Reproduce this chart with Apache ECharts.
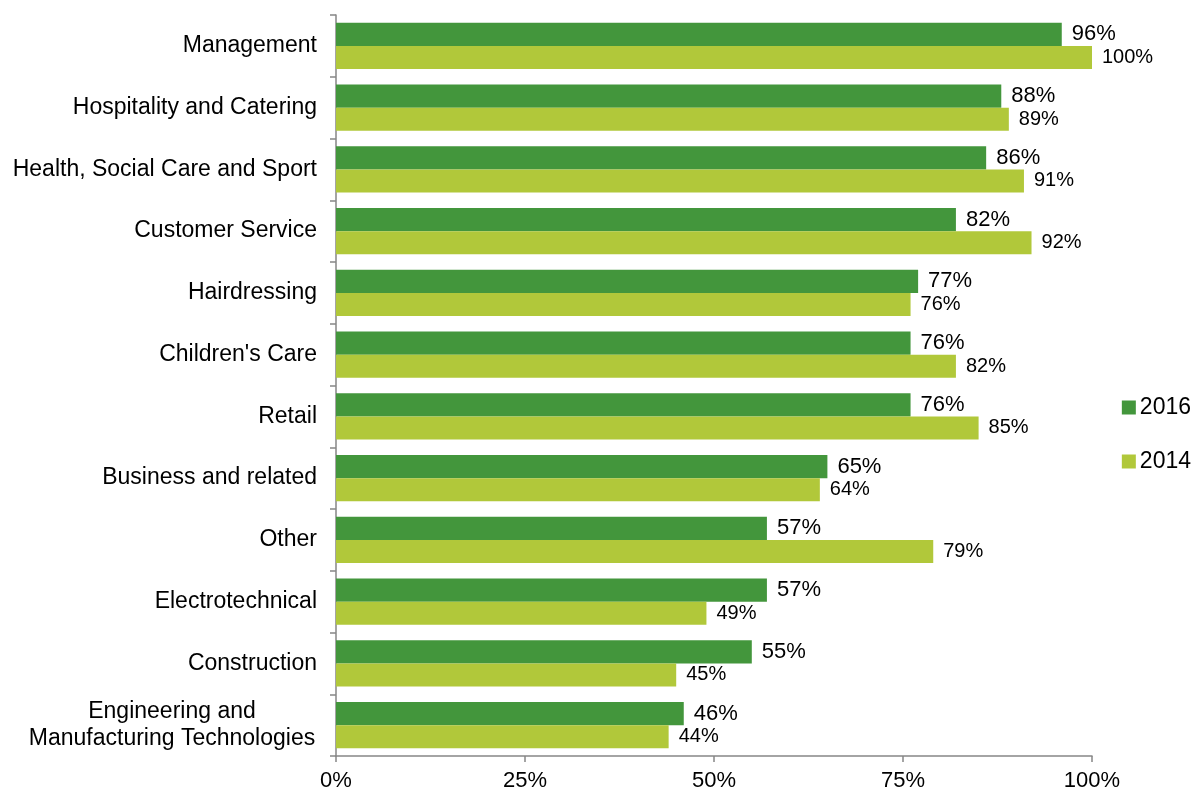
<!DOCTYPE html>
<html>
<head>
<meta charset="utf-8">
<script src="https://cdn.jsdelivr.net/npm/echarts@6/dist/echarts.min.js"></script>
<style>
  html, body { margin: 0; padding: 0; background: #fff; }
  #chart { width: 1196px; height: 795px; }
</style>
</head>
<body>
<div id="chart"></div>
<script>
var categories = [
  "Management",
  "Hospitality and Catering",
  "Health, Social Care and Sport",
  "Customer Service",
  "Hairdressing",
  "Children's Care",
  "Retail",
  "Business and related",
  "Other",
  "Electrotechnical",
  "Construction",
  "Engineering and\nManufacturing Technologies"
];
var values2016 = [96, 88, 86, 82, 77, 76, 76, 65, 57, 57, 55, 46];
var values2014 = [100, 89, 91, 92, 76, 82, 85, 64, 79, 49, 45, 44];
var xTicks = [0, 25, 50, 75, 100];

var font = "'Liberation Sans', Arial, sans-serif";
var myChart = echarts.init(document.getElementById("chart"));
var options = {
  animation: false,
  grid: { left: 336, right: 104, top: 15, bottom: 39, containLabel: false },
  legend: {
    orient: "vertical",
    right: 0,
    top: 391,
    itemWidth: 14,
    itemHeight: 14,
    itemGap: 31,
    icon: "rect",
    textStyle: { fontFamily: font, fontSize: 23, color: "#000", padding: [0, 0, 0, -1] },
    data: ["2016", "2014"]
  },
  xAxis: {
    type: "value",
    min: 0,
    max: 100,
    interval: 25,
    position: "bottom",
    splitLine: { show: false },
    axisLine: { show: true, lineStyle: { color: "#868686", width: 1.5 } },
    axisTick: { show: true, length: 6, lineStyle: { color: "#868686", width: 1.5 } },
    axisLabel: {
      fontFamily: font,
      fontSize: 22,
      color: "#000",
      margin: 14,
      formatter: function (v) { return xTicks.indexOf(v) >= 0 ? v + "%" : ""; }
    }
  },
  yAxis: {
    type: "category",
    inverse: true,
    data: categories,
    axisLine: { show: true, lineStyle: { color: "#868686", width: 1.5 } },
    axisTick: { show: true, length: 6, lineStyle: { color: "#868686", width: 1.5 } },
    axisLabel: {
      fontFamily: font,
      fontSize: 23,
      color: "#000",
      margin: 19,
      lineHeight: 27,
      align: "right",
      // multi-line label is centred within its block, as in the source
      formatter: function (v) {
        return v.indexOf("\n") >= 0 ? "{c|" + v + "}" : v;
      },
      rich: {
        c: { fontFamily: font, fontSize: 23, color: "#000", lineHeight: 27, width: 290, align: "center" }
      }
    }
  },
  series: [
    {
      name: "2016",
      type: "bar",
      data: values2016,
      barGap: "0%",
      barCategoryGap: "25%",
      itemStyle: { color: "#43963c" },
      label: {
        show: true,
        position: "right",
        distance: 10,
        formatter: "{c}%",
        fontFamily: font,
        fontSize: 22,
        color: "#000"
      }
    },
    {
      name: "2014",
      type: "bar",
      data: values2014,
      barGap: "0%",
      barCategoryGap: "25%",
      itemStyle: { color: "#b1c83a" },
      label: {
        show: true,
        position: "right",
        distance: 10,
        formatter: "{c}%",
        fontFamily: font,
        fontSize: 20,
        color: "#000"
      }
    }
  ]
};
myChart.setOption(options);
</script>
</body>
</html>
